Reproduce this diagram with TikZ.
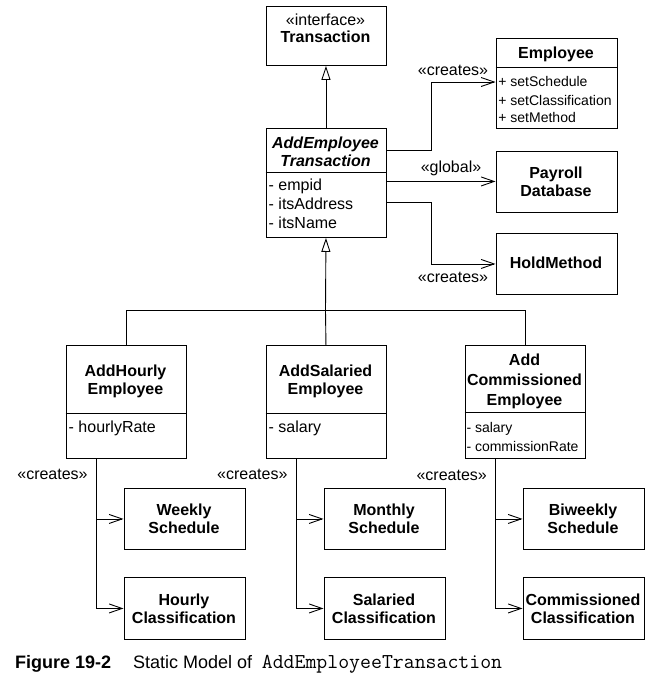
\documentclass[tikz,border=0pt]{standalone}
\usepackage{fontspec}
\setmainfont{Liberation Sans}
\usetikzlibrary{arrows.meta}
\begin{document}
\begin{tikzpicture}[x=1pt,y=-1pt,
  ln/.style={line width=0.9pt},
  box/.style={draw, line width=0.9pt, inner sep=0pt, anchor=north west},
  t/.style={inner sep=0pt, anchor=base},
  tl/.style={inner sep=0pt, anchor=base west},
  ttl/.style={t, font=\fontsize{16}{19}\selectfont\bfseries},
  ttli/.style={t, font=\fontsize{16}{19}\selectfont\bfseries\itshape},
  att/.style={tl, font=\fontsize{16}{19}\selectfont},
  satt/.style={tl, font=\fontsize{14}{17}\selectfont},
  lbl/.style={t, font=\fontsize{16}{19}\selectfont},
  dep/.style={line width=0.9pt, -{Straight Barb[length=13pt,width=9pt]}},
  inh/.style={line width=0.9pt, -{Triangle[open,length=14pt,width=9pt]}}]
\useasboundingbox (0,0) rectangle (671,683);

% Transaction
\node[box, minimum width=120pt, minimum height=59.5pt] (tr) at (265.5,5.5) {};
\node[lbl] (tr1) at (325.5,25.8) {«interface»};
\node[ttl] (tr2) at (325.5,42.7) {Transaction};

% AddEmployeeTransaction
\node[box, minimum width=120pt, minimum height=109pt] (aet) at (265.5,128) {};
\draw[ln] ([yshift=-44.5pt]aet.north west) -- ([yshift=-44.5pt]aet.north east);
\node[ttli] (aet1) at (325.5,148.4) {AddEmployee};
\node[ttli] (aet2) at (325.5,166.7) {Transaction};
\node[att] (aet3) at (268.5,190.8) {- empid};
\node[att] (aet4) at (268.5,209.8) {- itsAddress};
\node[att] (aet5) at (268.5,228.5) {- itsName};

% Employee
\node[box, minimum width=121pt, minimum height=89.5pt] (emp) at (495.5,38) {};
\draw[ln] ([yshift=-29.5pt]emp.north west) -- ([yshift=-29.5pt]emp.north east);
\node[ttl] (emp1) at (556,58.7) {Employee};
\node[satt] (emp2) at (498.2,86) {+ setSchedule};
\node[satt] (emp3) at (498.2,105) {+ setClassification};
\node[satt] (emp4) at (498.2,122.5) {+ setMethod};

% Payroll Database
\node[box, minimum width=121pt, minimum height=61pt] (pdb) at (495.5,150.5) {};
\node[ttl] (pdb1) at (556,178.7) {Payroll};
\node[ttl] (pdb2) at (556,196.7) {Database};

% HoldMethod
\node[box, minimum width=121pt, minimum height=61pt] (hm) at (495.5,233) {};
\node[ttl] (hm1) at (556,268.7) {HoldMethod};

% AddHourlyEmployee
\node[box, minimum width=120pt, minimum height=112.5pt] (ah) at (65.5,345) {};
\draw[ln] ([yshift=-68pt]ah.north west) -- ([yshift=-68pt]ah.north east);
\node[ttl] (ah1) at (125.5,376.4) {AddHourly};
\node[ttl] (ah2) at (125.5,394.4) {Employee};
\node[att] (ah3) at (68.5,432.5) {- hourlyRate};

% AddSalariedEmployee
\node[box, minimum width=120pt, minimum height=112.5pt] (as) at (265.5,345) {};
\draw[ln] ([yshift=-68pt]as.north west) -- ([yshift=-68pt]as.north east);
\node[ttl] (as1) at (325.5,376.4) {AddSalaried};
\node[ttl] (as2) at (325.5,394.4) {Employee};
\node[att] (as3) at (268.5,432.5) {- salary};

% AddCommissionedEmployee
\node[box, minimum width=120pt, minimum height=112.5pt] (ac) at (464.5,345) {};
\draw[ln] ([yshift=-67.5pt]ac.north west) -- ([yshift=-67.5pt]ac.north east);
\node[ttl] (ac1) at (524.5,365.7) {Add};
\node[ttl] (ac2) at (524.5,385.7) {Commissioned};
\node[ttl] (ac3) at (524.5,405) {Employee};
\node[satt] (ac4) at (466.3,432.3) {- salary};
\node[satt] (ac5) at (466.3,451.7) {- commissionRate};

% Schedules / classifications
\node[box, minimum width=121pt, minimum height=61pt] (ws) at (123.5,488) {};
\node[ttl] (ws1) at (184,515.5) {Weekly};
\node[ttl] (ws2) at (184,533.8) {Schedule};
\node[box, minimum width=121pt, minimum height=62pt] (hc) at (123.5,577) {};
\node[ttl] (hc1) at (184,605.7) {Hourly};
\node[ttl] (hc2) at (184,623) {Classification};

\node[box, minimum width=121pt, minimum height=61pt] (ms) at (323.5,488) {};
\node[ttl] (ms1) at (384,515.5) {Monthly};
\node[ttl] (ms2) at (384,533.8) {Schedule};
\node[box, minimum width=121pt, minimum height=62pt] (sc) at (323.5,577) {};
\node[ttl] (sc1) at (384,605.7) {Salaried};
\node[ttl] (sc2) at (384,623) {Classification};

\node[box, minimum width=121pt, minimum height=61pt] (bs) at (522.5,488) {};
\node[ttl] (bs1) at (583,515.5) {Biweekly};
\node[ttl] (bs2) at (583,533.8) {Schedule};
\node[box, minimum width=121pt, minimum height=62pt] (cc) at (522.5,577) {};
\node[ttl] (cc1) at (583,605.7) {Commissioned};
\node[ttl] (cc2) at (583,623) {Classification};

% Generalizations
\draw[inh] (aet.north) -- (tr.south);
\coordinate (bus) at (325.5,310.5);
\draw[inh] (bus) -- (aet.south);
\draw[ln] (ah.north) |- (bus) -| (ac.north);
\draw[ln] (as.north) -- (bus);

% Dependencies
\draw[dep] ([yshift=-22pt]aet.north east) -- ++(45,0) |- ([yshift=-44pt]emp.north west);
\draw[dep] (aet.east |- pdb.west) -- (pdb.west);
\draw[dep] ([yshift=-74.5pt]aet.north east) -- ++(45,0) |- (hm.west);
\node[lbl] (l1) at (453,75.8) {«creates»};
\node[lbl] (l2) at (451,172.8) {«global»};
\node[lbl] (l3) at (453,282.5) {«creates»};

\draw[dep] ([xshift=-30pt]ah.south) |- (ws.west);
\draw[dep] ([xshift=-30pt]ah.south) |- (hc.west);
\draw[dep] ([xshift=-30pt]as.south) |- (ms.west);
\draw[dep] ([xshift=-30pt]as.south) |- (sc.west);
\draw[dep] ([xshift=-30pt]ac.south) |- (bs.west);
\draw[dep] ([xshift=-30pt]ac.south) |- (cc.west);
\node[lbl] (l4) at (52.5,479.8) {«creates»};
\node[lbl] (l5) at (252.3,479.8) {«creates»};
\node[lbl] (l6) at (451.7,480.8) {«creates»};

% Caption
\node[tl, font=\fontsize{18}{21}\selectfont\bfseries] (cap1) at (15,668) {Figure 19-2};
\node[tl, font=\fontsize{18}{21}\selectfont] (cap2) at (133,668) {Static Model of};
\node[tl, font=\fontsize{21.2}{24}\selectfont\ttfamily] (cap3) at (261.7,668) {AddEmployeeTransaction};
\end{tikzpicture}
\end{document}
